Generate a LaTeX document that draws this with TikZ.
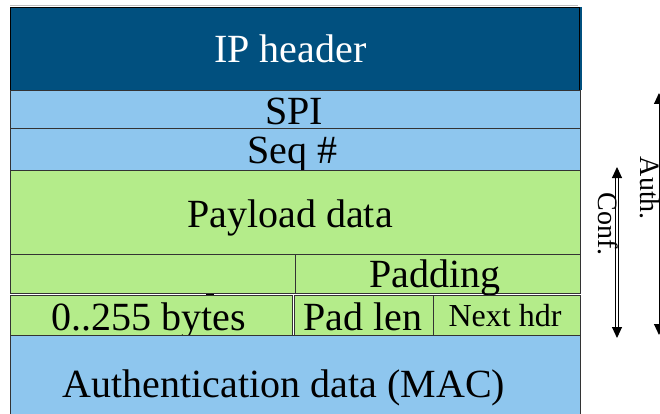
\documentclass[tikz,border=0pt]{standalone}
\usepackage{fontspec}
\setmainfont{Liberation Serif}
\usetikzlibrary{arrows.meta}

\definecolor{hdrblue}{HTML}{01507F}
\definecolor{espblue}{HTML}{8EC6EE}
\definecolor{espgreen}{HTML}{B4EC8A}
\definecolor{edge}{HTML}{333333}

\tikzset{
  field/.style={draw=edge, line width=0.9pt},
  bluefield/.style={field, fill=espblue},
  greenfield/.style={field, fill=espgreen},
  big/.style={font=\fontsize{40}{44}\selectfont, anchor=base, inner sep=0pt},
  small/.style={font=\fontsize{32}{36}\selectfont, anchor=base, inner sep=0pt},
  side/.style={font=\fontsize{28}{32}\selectfont, anchor=base, inner sep=0pt, rotate=-90},
  span/.style={line width=1pt, {Triangle[length=11pt,width=10pt]}-{Triangle[length=11pt,width=10pt]}}
}

\begin{document}
\begin{tikzpicture}[x=1pt, y=-1pt]
  \useasboundingbox (0,0) rectangle (660,414);

  % IP header
  \draw[gray!50, line width=0.8pt] (10,5.5) -- (578,5.5);
  \fill[hdrblue] (10,7) rectangle (582,90);
  \draw[black, line width=0.9pt] (10,7) rectangle (579.5,90);
  \node[big, text=white] (iphdr) at (290.5,63) {IP header};

  % ESP header fields
  \draw[bluefield] (10,90) rectangle (580,128);
  \node[big] (spi) at (294,125) {SPI};
  \draw[bluefield] (10,128) rectangle (580,170);
  \node[big] (seq) at (292,163) {Seq \#};

  % Payload and trailer
  \draw[greenfield] (10,170) rectangle (580,254);
  \node[big] (payload) at (290,227) {Payload data};
  \draw[greenfield] (10,254) rectangle (295,293);
  \draw[greenfield] (295,254) rectangle (580,293);
  \node[big] (padding) at (435,287) {Padding};
  \draw[greenfield] (10,295) rectangle (292,335);
  \draw[greenfield] (294.5,295) rectangle (433,335);
  \draw[greenfield] (433,295) rectangle (580,335);
  \node[big] (bytes) at (149,330) {0..255 bytes};
  \node[big] (padlen) at (363,330) {Pad len};
  \node[small] (nexthdr) at (505,326) {Next hdr};
  \draw[black, line width=1.6pt] (206,294.5) -- (214,294.5);

  % Authentication data
  \fill[espblue] (10,335) rectangle (580,416);
  \draw[field] (10,416) -- (10,335) -- (580,335) -- (580,416);
  \node[big] (mac) at (284,397) {Authentication data (MAC)};

  % Coverage spans
  \coordinate (conftop) at (617,167);
  \coordinate (confbot) at (617,338);
  \coordinate (authtop) at (659,93);
  \coordinate (authbot) at (659,335);
  \draw[span, double, double distance=2.5pt] (conftop) -- (confbot);
  \draw[span] (authtop) -- (authbot);
  \node[side] (conf) at (598,224) {Conf.};
  \node[side] (auth) at (640,188.5) {Auth.};
\end{tikzpicture}
\end{document}
